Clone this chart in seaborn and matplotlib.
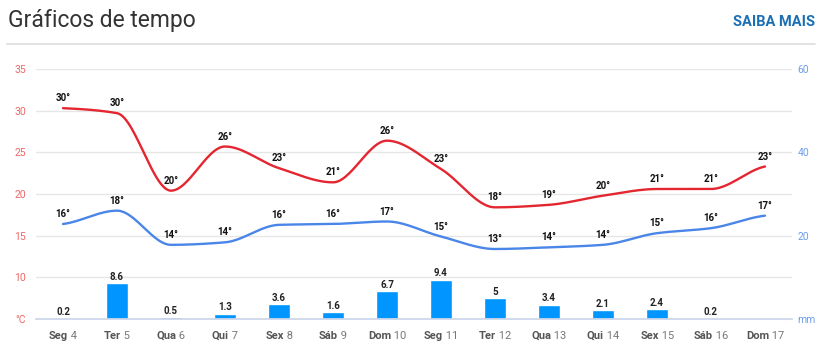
import numpy as np
import pandas as pd
import matplotlib.pyplot as plt
import seaborn as sns

# Data
day_names = ['Seg', 'Ter', 'Qua', 'Qui', 'Sex', 'Sáb', 'Dom',
             'Seg', 'Ter', 'Qua', 'Qui', 'Sex', 'Sáb', 'Dom']
day_nums = ['4', '5', '6', '7', '8', '9', '10', '11', '12', '13', '14', '15', '16', '17']
temp_max = [30.3, 29.7, 20.4, 25.7, 23.1, 21.4, 26.4, 23.0, 18.4, 18.7, 19.8, 20.6, 20.6, 23.3]
temp_min = [16.4, 18.0, 13.9, 14.2, 16.3, 16.4, 16.7, 14.9, 13.4, 13.6, 13.9, 15.3, 15.9, 17.4]
rain = [0.2, 8.6, 0.5, 1.3, 3.6, 1.6, 6.7, 9.4, 5, 3.4, 2.1, 2.4, 0.2, np.nan]

days = [f'{a} {b}' for a, b in zip(day_names, day_nums)]


def smooth(y, n=30):
    # monotone cubic (Fritsch-Carlson) through the points
    y = np.asarray(y, float)
    x = np.arange(len(y), dtype=float)
    d = np.diff(y)
    m = np.zeros_like(y)
    for k in range(1, len(y) - 1):
        if d[k - 1] * d[k] > 0:
            m[k] = 2 / (1 / d[k - 1] + 1 / d[k])
    m[0], m[-1] = d[0] * 0.5, d[-1] * 0.5
    xs, ys = [], []
    for k in range(len(y) - 1):
        t = np.linspace(0, 1, n, endpoint=False)
        h00 = 2 * t**3 - 3 * t**2 + 1
        h10 = t**3 - 2 * t**2 + t
        h01 = -2 * t**3 + 3 * t**2
        h11 = t**3 - t**2
        xs.append(x[k] + t)
        ys.append(h00 * y[k] + h10 * m[k] + h01 * y[k + 1] + h11 * m[k + 1])
    xs.append([x[-1]])
    ys.append([y[-1]])
    return np.concatenate(xs), np.concatenate(ys)


sns.set_theme(style='white')
plt.rcParams['font.family'] = ['Roboto', 'DejaVu Sans']

W, H = 822, 351
fig = plt.figure(figsize=(W / 100, H / 100), dpi=100)
ax = fig.add_axes([36 / W, 1 - 319 / H, 756 / W, 250 / H])
ax2 = ax.twinx()
ax.set_zorder(2)
ax.patch.set_visible(False)

# header
fig.text(8 / W, 1 - 20 / H, 'Gráficos de tempo', fontsize=16.5, color='#333333', va='center', ha='left')
fig.text(815 / W, 1 - 22 / H, 'SAIBA MAIS', fontsize=10.5, color='#1a6fb5', fontweight='bold', va='center', ha='right')
fig.add_artist(plt.Line2D([7 / W, 815 / W], [1 - 43.5 / H, 1 - 43.5 / H], color='#dddddd', lw=1.2))

# rain bars (right axis)
df_rain = pd.DataFrame({'day': days, 'rain': rain})
sns.barplot(data=df_rain, x='day', y='rain', order=days, ax=ax2, color='#0095ff',
            saturation=1, width=0.41, errorbar=None)
ax2.set_ylim(0, 60)
ax2.set_yticks([0, 20, 40, 60], ['mm', '20', '40', '60'])
ax2.tick_params(axis='y', length=0, pad=4, labelsize=7.5, labelcolor='#6d9eeb')
ax2.set_xlabel('')
ax2.set_ylabel('')
# labels go on the top axes so the grid stays behind them
for i, v in enumerate(rain):
    if not np.isnan(v):
        ax.annotate(f'{v:g}', (i, v), xycoords=ax2.transData, xytext=(0, 1), textcoords='offset points',
                    ha='center', va='bottom', fontsize=7, fontweight='bold', color='#222222')

# temperature lines (left axis)
for vals, col in [(temp_max, '#e3262f'), (temp_min, '#4a86e8')]:
    xs, ys = smooth(vals)
    sns.lineplot(x=xs, y=ys, ax=ax, color=col, lw=1.7, sort=False)
    for i, v in enumerate(vals):
        ax.annotate(f'{v:.0f}°', (i, v), xytext=(0, 3.5), textcoords='offset points',
                    ha='center', va='bottom', fontsize=7, fontweight='bold', color='#111111')

ax.set_ylim(5, 35)
ax.set_xlim(-0.5, len(days) - 0.5)
ax.set_yticks(range(5, 40, 5), ['°C'] + [str(v) for v in range(10, 40, 5)])
ax.tick_params(axis='y', length=0, pad=7, labelsize=7.5, labelcolor='#ee6666')
ax.yaxis.grid(True, color='#e6e6e6', lw=1, zorder=0)
ax.set_axisbelow(True)
ax.set_xticks(range(len(days)), [''] * len(days))
ax.tick_params(axis='x', length=4.5, width=1, color='#ccd6eb', pad=2)
ax.set_ylabel('')

for a in (ax, ax2):
    for s in ('top', 'left', 'right'):
        a.spines[s].set_visible(False)
    a.spines['bottom'].set_color('#ccd6eb')
ax2.spines['bottom'].set_visible(False)

# x labels: bold day name + normal day number, centred together
pairs = []
for i, (a, b) in enumerate(zip(day_names, day_nums)):
    t1 = ax.annotate(a, xy=(i, 0), xycoords=('data', 'axes fraction'), xytext=(0, -12),
                     textcoords='offset points', ha='left', va='center',
                     fontsize=8, fontweight='bold', color='#555555')
    t2 = ax.annotate(' ' + b, xy=(1, 0.5), xycoords=t1, ha='left', va='center',
                     fontsize=8, color='#777777')
    pairs.append((t1, t2))
fig.canvas.draw()
r = fig.canvas.get_renderer()
for t1, t2 in pairs:
    w = t1.get_window_extent(r).width + t2.get_window_extent(r).width
    t1.xyann = (-w / 2 * 72 / fig.dpi, -12)

fig.savefig('out.png', dpi=100)
